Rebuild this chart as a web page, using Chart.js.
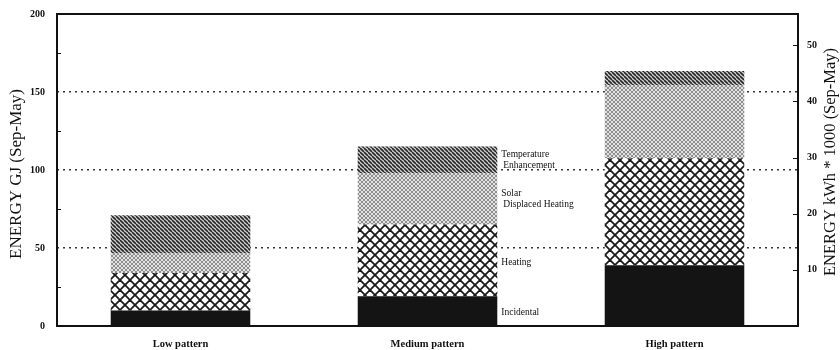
<!DOCTYPE html>
<html>
<head>
<meta charset="utf-8">
<script src="https://cdn.jsdelivr.net/npm/chart.js@4"></script>
<style>
  html, body { margin: 0; padding: 0; background: #fff; }
  #wrap { width: 840px; height: 350px; position: relative; }
</style>
</head>
<body>
<div id="wrap"><canvas id="c"></canvas></div>
<script>
// Seasonal energy (GJ, Sep-May) per occupancy pattern, split by source
const categories = ['Low pattern', 'Medium pattern', 'High pattern'];
const incidental = [10, 19, 39];
const heating = [24, 46, 68.5];
const solarDisplaced = [12.5, 33, 47];
const temperatureEnh = [24.5, 17, 9];
const seriesLabels = [['Incidental'], ['Heating'], ['Solar', 'Displaced Heating'], ['Temperature', 'Enhancement']];
const leftTicks = [0, 50, 100, 150, 200];
const rightTicks = [10, 20, 30, 40, 50];
const GJ_PER_MWH = 3.6;   // 1000 kWh = 3.6 GJ

const SERIF = "'Liberation Serif', 'DejaVu Serif', serif";
const canvas = document.getElementById('c');
const ctx = canvas.getContext('2d');

function tile(size, draw) {
  const c = document.createElement('canvas');
  c.width = c.height = size;
  const g = c.getContext('2d');
  g.fillStyle = '#fff';
  g.fillRect(0, 0, size, size);
  draw(g, size);
  return ctx.createPattern(c, 'repeat');
}
function diag(g, s, dir) {
  for (let k = -1; k <= 1; k++) {
    g.beginPath();
    if (dir > 0) { g.moveTo(k * s, 0); g.lineTo(k * s + s, s); }
    else { g.moveTo(k * s + s, 0); g.lineTo(k * s, s); }
    g.stroke();
  }
}
const fillIncidental = '#141414';
const fillHeating = tile(10, (g, s) => { g.strokeStyle = '#1a1a1a'; g.lineWidth = 1.8; diag(g, s, 1); diag(g, s, -1); });
const fillSolar = tile(4, (g, s) => { g.fillStyle = '#e2e2e2'; g.fillRect(0, 0, s, s); g.strokeStyle = '#7a7a7a'; g.lineWidth = 0.8; diag(g, s, 1); diag(g, s, -1); });
const fillTemp = tile(4, (g, s) => { g.fillStyle = '#d4d4d4'; g.fillRect(0, 0, s, s); g.strokeStyle = '#262626'; g.lineWidth = 1.6; diag(g, s, 1); });

const datasets = [
  { label: 'Incidental', data: incidental, backgroundColor: fillIncidental },
  { label: 'Heating', data: heating, backgroundColor: fillHeating },
  { label: 'Solar Displaced Heating', data: solarDisplaced, backgroundColor: fillSolar },
  { label: 'Temperature Enhancement', data: temperatureEnh, backgroundColor: fillTemp }
].map(d => Object.assign(d, { stack: 's', borderWidth: 0, barPercentage: 0.565, categoryPercentage: 1, yAxisID: 'y' }));

// frame, inward ticks, segment captions and axis titles
const decorations = {
  id: 'decorations',
  afterDatasetsDraw(chart) {
    const { ctx: c, chartArea: a, scales } = chart;
    c.save();
    c.strokeStyle = '#111';
    c.lineWidth = 2;
    c.strokeRect(a.left, a.top, a.right - a.left, a.bottom - a.top);

    c.lineWidth = 1;
    [25, 75, 125, 175].forEach(v => {
      const y = Math.round(scales.y.getPixelForValue(v)) + 0.5;
      c.beginPath(); c.moveTo(a.left, y); c.lineTo(a.left + 4, y); c.stroke();
    });
    rightTicks.forEach(v => {
      const y = Math.round(scales.y2.getPixelForValue(v)) + 0.5;
      c.beginPath(); c.moveTo(a.right - 5, y); c.lineTo(a.right, y); c.stroke();
    });

    // captions beside the middle bar
    c.fillStyle = '#111';
    c.font = '9.5px ' + SERIF;
    c.textBaseline = 'middle';
    c.textAlign = 'left';
    seriesLabels.forEach((lines, i) => {
      const bar = chart.getDatasetMeta(i).data[1];
      const x = bar.x + bar.width / 2 + 4;
      const yMid = (bar.y + bar.base) / 2 + (lines.length > 1 ? 0 : 2);
      lines.forEach((t, j) => {
        c.fillText(t, x + (j ? 2 : 0), yMid + (j - (lines.length - 1) / 2) * 10.5);
      });
    });

    // axis titles, both reading bottom to top
    c.textAlign = 'center';
    c.textBaseline = 'middle';
    c.font = '17px ' + SERIF;
    c.save(); c.translate(17, 174); c.rotate(-Math.PI / 2);
    c.fillText('ENERGY GJ (Sep-May)', 0, 0); c.restore();
    c.font = '16.5px ' + SERIF;
    c.save(); c.translate(831, 162); c.rotate(-Math.PI / 2);
    c.fillText('ENERGY kWh * 1000 (Sep-May)', 0, 0); c.restore();
    c.restore();
  }
};

function fixVertical(width) {
  return s => { s.width = width; s.paddingTop = 0; s.paddingBottom = 0; };
}

new Chart(canvas, {
  type: 'bar',
  data: { labels: categories, datasets },
  options: {
    responsive: true,
    maintainAspectRatio: false,
    animation: false,
    events: [],
    layout: { padding: { top: 14, left: 0, right: 0, bottom: 0 } },
    plugins: { legend: { display: false }, tooltip: { enabled: false } },
    scales: {
      x: {
        stacked: true,
        grid: { display: false },
        border: { display: false },
        ticks: { color: '#111', font: { family: SERIF, size: 10.5, weight: 'bold' }, padding: 4 },
        afterFit(s) { s.height = 24; s.paddingLeft = 0; s.paddingRight = 0; }
      },
      y: {
        stacked: true,
        position: 'left',
        min: leftTicks[0],
        max: leftTicks[leftTicks.length - 1],
        afterBuildTicks(s) { s.ticks = leftTicks.map(v => ({ value: v })); },
        grid: {
          drawTicks: false,
          lineWidth: 1.6,
          color: ctx2 => (ctx2.tick && ctx2.tick.value > 0 && ctx2.tick.value < 200) ? '#333' : 'rgba(0,0,0,0)'
        },
        border: { display: false, dash: [2, 4] },
        ticks: { color: '#111', font: { family: SERIF, size: 10, weight: 'bold' }, padding: 12 },
        afterFit: fixVertical(57)
      },
      y2: {
        position: 'right',
        min: 0,
        max: 200 / GJ_PER_MWH,
        afterBuildTicks(s) { s.ticks = rightTicks.map(v => ({ value: v })); },
        grid: { drawOnChartArea: false, drawTicks: false },
        border: { display: false },
        ticks: { color: '#111', font: { family: SERIF, size: 10, weight: 'bold' }, padding: 9 },
        afterFit: fixVertical(42)
      }
    }
  },
  plugins: [decorations]
});
</script>
</body>
</html>
